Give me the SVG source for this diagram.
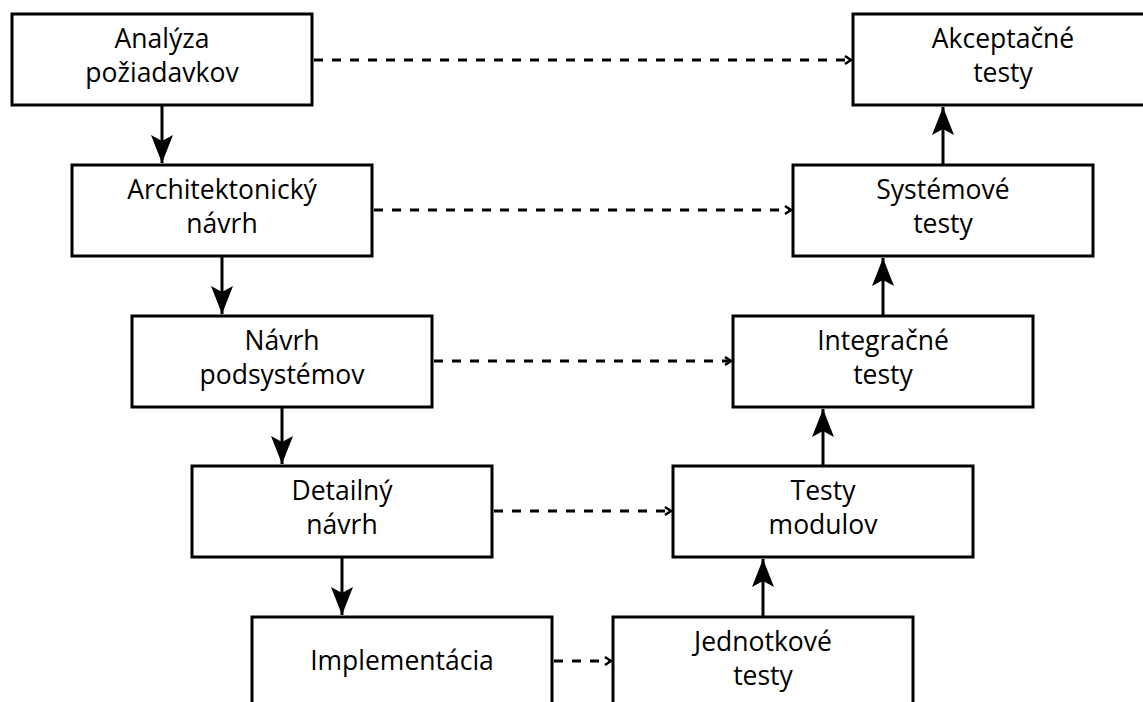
<svg xmlns="http://www.w3.org/2000/svg" width="1143" height="702" viewBox="0 0 1143 702">
<style>
.box{fill:#fff;stroke:#000;stroke-width:3}
.t{font-family:"Open Sans","Noto Sans",sans-serif;font-size:26.5px;fill:#000;text-anchor:middle}
.solid{stroke:#000;stroke-width:3;fill:none}
.dash{stroke:#000;stroke-width:3;fill:none;stroke-dasharray:9 9}
</style>
<defs>
<marker id="ah" markerUnits="userSpaceOnUse" markerWidth="32" markerHeight="26" viewBox="-30 -13 32 26" refX="0" refY="0" orient="auto">
<path d="M0,0 L-28,-11 L-22,0 L-28,11 Z" fill="#000"/>
</marker>
<marker id="oh" markerUnits="userSpaceOnUse" markerWidth="12" markerHeight="12" viewBox="-8 -6 10 12" refX="0" refY="0" orient="auto">
<path d="M-6,-4 L0,0 L-6,4" fill="none" stroke="#000" stroke-width="2.5"/>
</marker>
</defs>
<g id="connectors">
<line class="solid" x1="162" y1="105" x2="162" y2="163" marker-end="url(#ah)"/>
<line class="solid" x1="222" y1="256" x2="222" y2="314" marker-end="url(#ah)"/>
<line class="solid" x1="282" y1="407" x2="282" y2="464" marker-end="url(#ah)"/>
<line class="solid" x1="342" y1="557" x2="342" y2="615" marker-end="url(#ah)"/>
<line class="solid" x1="763" y1="617" x2="763" y2="559" marker-end="url(#ah)"/>
<line class="solid" x1="823" y1="466" x2="823" y2="409" marker-end="url(#ah)"/>
<line class="solid" x1="883" y1="316" x2="883" y2="258" marker-end="url(#ah)"/>
<line class="solid" x1="943" y1="165" x2="943" y2="107" marker-end="url(#ah)"/>
<line class="dash" x1="314" y1="60" x2="851" y2="60" marker-end="url(#oh)"/>
<line class="dash" x1="374" y1="210" x2="791" y2="210" marker-end="url(#oh)"/>
<line class="dash" x1="434" y1="361" x2="731" y2="361" marker-end="url(#oh)"/>
<line class="dash" x1="494" y1="511" x2="671" y2="511" marker-end="url(#oh)"/>
<line class="dash" x1="554" y1="661" x2="611" y2="661" marker-end="url(#oh)"/>
</g>
<g id="analyza"><rect class="box" x="12" y="14" width="300" height="91"/><text class="t" x="162" y="47.5">Analýza</text><text class="t" x="162" y="82">požiadavkov</text></g>
<g id="architektonicky"><rect class="box" x="72" y="165" width="300" height="91"/><text class="t" x="222" y="198.5">Architektonický</text><text class="t" x="222" y="233">návrh</text></g>
<g id="podsystemov"><rect class="box" x="132" y="316" width="300" height="91"/><text class="t" x="282" y="349.5">Návrh</text><text class="t" x="282" y="384">podsystémov</text></g>
<g id="detailny"><rect class="box" x="192" y="466" width="300" height="91"/><text class="t" x="342" y="499.5">Detailný</text><text class="t" x="342" y="534">návrh</text></g>
<g id="implementacia"><rect class="box" x="252" y="617" width="300" height="91"/><text class="t" x="402" y="670">Implementácia</text></g>
<g id="jednotkove"><rect class="box" x="613" y="617" width="300" height="91"/><text class="t" x="763" y="650.5">Jednotkové</text><text class="t" x="763" y="685">testy</text></g>
<g id="modulov"><rect class="box" x="673" y="466" width="300" height="91"/><text class="t" x="823" y="499.5">Testy</text><text class="t" x="823" y="534">modulov</text></g>
<g id="integracne"><rect class="box" x="733" y="316" width="300" height="91"/><text class="t" x="883" y="349.5">Integračné</text><text class="t" x="883" y="384">testy</text></g>
<g id="systemove"><rect class="box" x="793" y="165" width="300" height="91"/><text class="t" x="943" y="198.5">Systémové</text><text class="t" x="943" y="233">testy</text></g>
<g id="akceptacne"><rect class="box" x="853" y="14" width="300" height="91"/><text class="t" x="1003" y="47.5">Akceptačné</text><text class="t" x="1003" y="82">testy</text></g>
</svg>
